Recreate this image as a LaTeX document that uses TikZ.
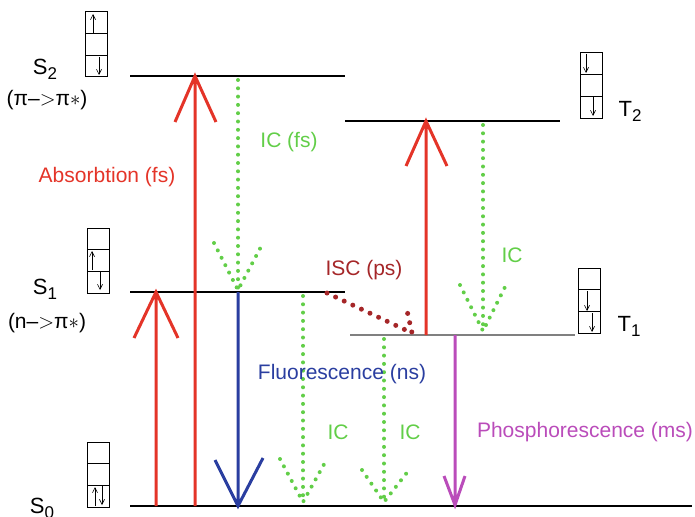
\documentclass[tikz,border=0pt]{standalone}
\usepackage{fontspec}
\setmainfont{Liberation Sans}
\usetikzlibrary{arrows.meta}
\definecolor{absred}{RGB}{228,52,40}
\definecolor{flublue}{RGB}{42,62,160}
\definecolor{icgreen}{RGB}{98,206,72}
\definecolor{iscred}{RGB}{165,38,40}
\definecolor{phosmag}{RGB}{186,76,186}
\newcommand{\lowidx}[1]{\raisebox{-5pt}{\fontsize{17}{17}\selectfont #1}}

\begin{document}
\begin{tikzpicture}[x=1pt, y=-1pt,
  level/.style={line width=1.4pt},
  lbl/.style={font=\fontsize{21}{25}\selectfont, inner sep=0pt},
  statelbl/.style={font=\fontsize{22}{26}\selectfont, inner sep=0pt},
  solidarr/.style={line width=3pt, line join=miter},
  ic/.style={icgreen, line width=4pt, line cap=round, dash pattern=on 0pt off 8.3pt},
  isc/.style={iscred, line width=5pt, line cap=round, dash pattern=on 0pt off 9.5pt},
  spin/.style={-{Straight Barb[length=5pt,width=5pt]}, line width=0.6pt},
  orb/.pic={
    \draw[line width=1pt] (0,0) rectangle (22,65);
    \draw[line width=1pt] (0,21.7) -- (22,21.7) (0,43.3) -- (22,43.3);
  }
]
  \useasboundingbox (0,0) rectangle (695,516);

  % energy levels
  \coordinate (s0l) at (130,506); \coordinate (s0r) at (692,506);
  \coordinate (s1l) at (130,292); \coordinate (s1r) at (345,292);
  \coordinate (s2l) at (130,76);  \coordinate (s2r) at (345,76);
  \coordinate (t2l) at (345,121); \coordinate (t2r) at (560,121);
  \coordinate (t1l) at (350,335); \coordinate (t1r) at (575,335);
  \draw[level] (s0l) -- (s0r);
  \draw[level] (s1l) -- (s1r);
  \draw[level] (s2l) -- (s2r);
  \draw[level] (t2l) -- (t2r);
  \draw[level, gray] (t1l) -- (t1r);

  % arrow ends
  \foreach \n/\x/\y in {absa/195/506, absb/195/76, abssa/156/506, abssb/156/292,
      tta/426/335, ttb/426/121, flua/238/292, flub/238/506,
      icsa/238/80, icsb/238/290, icta/483/125, ictb/483/331,
      icoa/303/296, icob/303/502, icpa/384/339, icpb/384/502,
      phoa/455/335, phob/455/505, isca/327/293, iscb/412/333}
    \coordinate (\n) at (\x,\y);

  % absorption
  \draw[solidarr, absred] (absa) -- (absb) ++(-20,46) -- (absb) -- ++(21,46);
  \draw[solidarr, absred] (abssa) -- (abssb) ++(-22,46) -- (abssb) -- ++(22,46);
  \draw[solidarr, absred] (tta) -- (ttb) ++(-20,45) -- (ttb) -- ++(21,45);
  % emission
  \draw[solidarr, flublue] (flua) -- (flub) ++(-23,-46) -- (flub) -- ++(25,-48);
  \draw[solidarr, phosmag] (phoa) -- (phob) ++(-11,-29) -- (phob) -- ++(10,-29);
  % internal conversion
  \draw[ic] (icsa) -- (icsb) ++(-24,-47) -- (icsb) -- ++(25,-47);
  \draw[ic] (icta) -- (ictb) ++(-23,-46) -- (ictb) -- ++(23,-46);
  \draw[ic] (icoa) -- (icob) ++(-23,-43) -- (icob) -- ++(24,-43);
  \draw[ic] (icpa) -- (icpb) ++(-22,-32) -- (icpb) -- ++(25,-32);
  % intersystem crossing
  \draw[isc] (isca) -- (iscb) -- ++(-6,-27);

  % labels
  \node[lbl, absred] (abslbl) at (107,177) {Absorbtion (fs)};
  \node[lbl, icgreen] (icfs) at (289,142) {IC (fs)};
  \node[lbl, iscred] (isclbl) at (364,270) {ISC (ps)};
  \node[lbl, icgreen] (ict) at (512,255) {IC};
  \node[lbl, flublue] (flulbl) at (342,374) {Fluorescence (ns)};
  \node[lbl, icgreen] (ics) at (338,432) {IC};
  \node[lbl, icgreen] (icp) at (410,432) {IC};
  \node[lbl, phosmag] (pholbl) at (585,432) {Phosphorescence (ms)};

  \node[statelbl] (s2) at (45,69) {S\lowidx{2}};
  \node[lbl] (s2t) at (47,100) {(π--$>$π$\ast$)};
  \node[statelbl] (s1) at (45,289) {S\lowidx{1}};
  \node[lbl] (s1t) at (47,323) {(n--$>$π$\ast$)};
  \node[statelbl] (s0) at (42,508) {S\lowidx{0}};
  \node[statelbl] (t2) at (630,111) {T\lowidx{2}};
  \node[statelbl] (t1) at (629,326) {T\lowidx{1}};

  % orbital occupation
  \pic at (85,12) {orb};
  \draw[spin] (93,33) -- (93,14);
  \draw[spin] (99,57) -- (99,75);
  \pic at (87,228) {orb};
  \draw[spin] (92,270) -- (92,251);
  \draw[spin] (100,272) -- (100,290);
  \pic at (87,442) {orb};
  \draw[spin] (95,506) -- (95,487);
  \draw[spin] (102,486) -- (102,505);
  \pic at (580,53) {orb};
  \draw[spin] (586,54) -- (586,73);
  \draw[spin] (593,97) -- (593,116);
  \pic at (578,268) {orb};
  \draw[spin] (587,291) -- (587,311);
  \draw[spin] (592,313) -- (592,332);
\end{tikzpicture}
\end{document}
